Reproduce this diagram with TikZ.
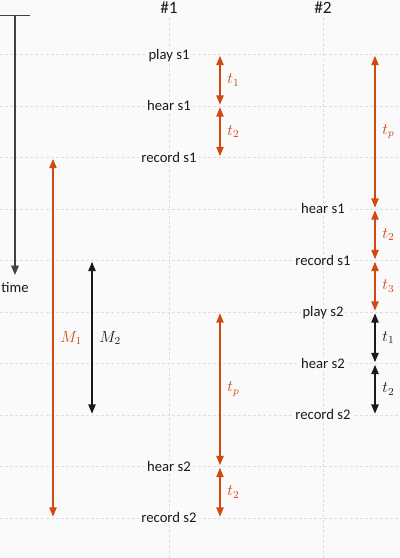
\documentclass[tikz,border=0pt]{standalone}
\usepackage{fontspec}
\setmainfont{Carlito}
\usepackage{tikz}
\usetikzlibrary{arrows.meta}

\definecolor{delayred}{RGB}{210,72,18}
\definecolor{gridgray}{RGB}{222,222,222}
\definecolor{paper}{RGB}{250,250,250}
\definecolor{axisgray}{RGB}{64,64,64}
\definecolor{ink}{RGB}{26,26,26}

\tikzset{
  gridline/.style={gridgray, line width=0.75pt, dash pattern=on 2.2pt off 1.6pt},
  event/.style={font=\fontsize{11}{13}\selectfont, text=ink, fill=paper,
    inner xsep=1.5pt, inner ysep=1pt, text height=7pt, text depth=0pt},
  colhead/.style={event, font=\fontsize{13}{15}\selectfont, text height=8.5pt},
  span/.style={{Triangle[length=7pt,width=5.5pt]}-{Triangle[length=7pt,width=5.5pt]},
    line width=1.1pt, shorten <=1pt, shorten >=1pt},
  spanlabel/.style={font=\fontsize{12}{14}\selectfont, right=5pt, inner sep=0pt}
}

\begin{document}
\begin{tikzpicture}[x=0.75pt,y=-0.75pt]
  % Background
  \fill[paper] (0,0) rectangle (400,558);
  \useasboundingbox (0,0) rectangle (400,558);

  % Grid rows and the end points on them
  \foreach \k in {0,...,9} {
    \draw[gridline] (0,54.5+51.5*\k) -- (400,54.5+51.5*\k);
    \coordinate (p\k) at (220,54.5+51.5*\k);
    \coordinate (q\k) at (375,54.5+51.5*\k);
  }
  \draw[gridline] (169,18) -- (169,558);
  \draw[gridline] (323,18) -- (323,558);

  % Column heads
  \node[colhead] (head1) at (169,8) {\#1};
  \node[colhead] (head2) at (323,8) {\#2};

  % Time axis
  \coordinate (axisL) at (0,15.5);
  \coordinate (axisR) at (29.5,15.5);
  \coordinate (axisT) at (15,15.5);
  \coordinate (axisB) at (15,275);
  \draw[axisgray, line width=1.4pt] (axisL) -- (axisR);
  \draw[axisgray, line width=1.4pt, -{Triangle[length=7pt,width=5.5pt]}] (axisT) -- (axisB);
  \node[event] (time) at (15,288) {time};

  % Spans M1 and M2
  \coordinate (m1top) at (53,157.5);
  \coordinate (m1bot) at (53,518);
  \coordinate (m2top) at (92,260.5);
  \coordinate (m2bot) at (92,415);
  \draw[span, delayred] (m1top) -- node[spanlabel, text=delayred] (M1) {$M_1$} (m1bot);
  \draw[span, ink] (m2top) -- node[spanlabel, text=ink] (M2) {$M_2$} (m2bot);

  % Events on #1
  \node[event] (play1a) at (169,54.5) {play s1};
  \node[event] (hear1a) at (169,106) {hear s1};
  \node[event] (rec1a) at (169,157.5) {record s1};
  \node[event] (hear1b) at (169,466.5) {hear s2};
  \node[event] (rec1b) at (169,518) {record s2};

  % Delays on #1
  \draw[span, delayred] (p0) -- node[spanlabel, text=delayred] (t1a) {$t_1$} (p1);
  \draw[span, delayred] (p1) -- node[spanlabel, text=delayred] (t2a) {$t_2$} (p2);
  \draw[span, delayred] (p5) -- node[spanlabel, text=delayred] (tpa) {$t_p$} (p8);
  \draw[span, delayred] (p8) -- node[spanlabel, text=delayred] (t2b) {$t_2$} (p9);

  % Events on #2
  \node[event] (hear2a) at (323,209) {hear s1};
  \node[event] (rec2a) at (323,260.5) {record s1};
  \node[event] (play2b) at (323,312) {play s2};
  \node[event] (hear2b) at (323,363.5) {hear s2};
  \node[event] (rec2b) at (323,415) {record s2};

  % Delays on #2
  \draw[span, delayred] (q0) -- node[spanlabel, text=delayred] (tpb) {$t_p$} (q3);
  \draw[span, delayred] (q3) -- node[spanlabel, text=delayred] (t2c) {$t_2$} (q4);
  \draw[span, delayred] (q4) -- node[spanlabel, text=delayred] (t3c) {$t_3$} (q5);
  \draw[span, ink] (q5) -- node[spanlabel, text=ink] (t1d) {$t_1$} (q6);
  \draw[span, ink] (q6) -- node[spanlabel, text=ink] (t2d) {$t_2$} (q7);
\end{tikzpicture}
\end{document}
